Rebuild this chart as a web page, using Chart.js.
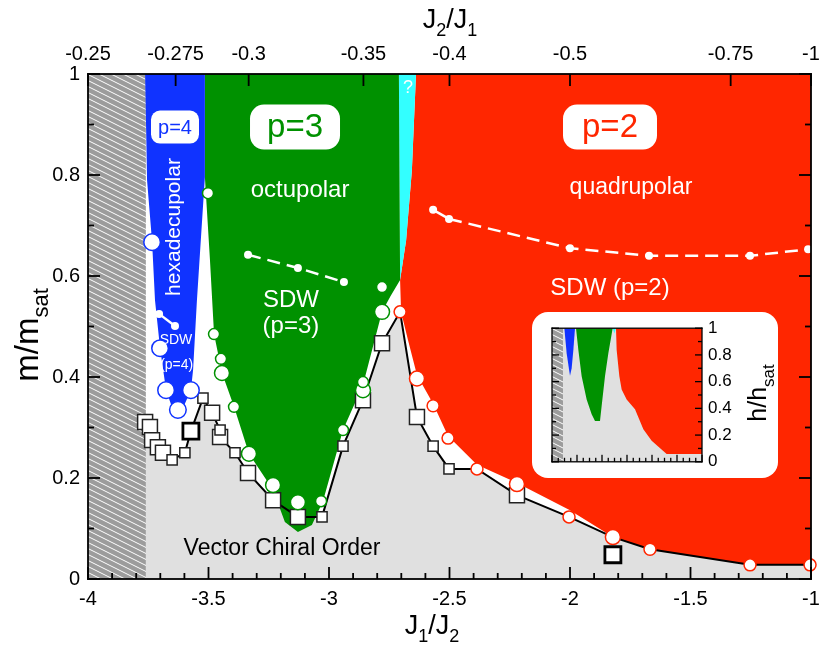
<!DOCTYPE html>
<html>
<head>
<meta charset="utf-8">
<script src="https://cdn.jsdelivr.net/npm/chart.js@4.4.0/dist/chart.umd.min.js"></script>
<style>
  body { margin: 0; background: #fff; }
  #wrap { position: relative; width: 830px; height: 652px; }
  #inset { position: absolute; left: 532px; top: 312px; width: 246px; height: 166px; background: #fff; border-radius: 16px; }
  canvas { display: block; }
</style>
</head>
<body>
<div id="wrap">
  <canvas id="main" width="830" height="652"></canvas>
  <div id="inset"><canvas id="small" width="246" height="166"></canvas></div>
</div>
<script>
const FONT = "'Liberation Sans', Arial, Helvetica, sans-serif";
const BLUE = '#1033ff', GREEN = '#009100', RED = '#ff2600', CYAN = '#33ffff', LIGHT = '#e0e0e0';

// ---- main diagram: x = J1/J2, y = m/msat ----
const hatchArea = [[-4, 0], [-4, 1], [-3.76, 1], [-3.76, 0]];
const p4Area = [[-3.763, 1], [-3.515, 1], [-3.515, 0.796], [-3.548, 0.552], [-3.564, 0.414], [-3.573, 0.374],
  [-3.600, 0.345], [-3.627, 0.335], [-3.655, 0.345], [-3.676, 0.374], [-3.701, 0.457], [-3.722, 0.552],
  [-3.734, 0.667], [-3.755, 0.79]];
const p3Area = [[-3.515, 1], [-2.710, 1], [-2.705, 0.592], [-2.745, 0.56], [-2.780, 0.529], [-2.859, 0.384],
  [-2.942, 0.295], [-3.025, 0.154], [-3.071, 0.107], [-3.129, 0.093], [-3.183, 0.113], [-3.232, 0.176],
  [-3.332, 0.248], [-3.394, 0.341], [-3.444, 0.408], [-3.477, 0.485], [-3.494, 0.632], [-3.515, 0.796]];
const unknownArea = [[-2.710, 1], [-2.639, 1], [-2.656, 0.81], [-2.680, 0.671], [-2.705, 0.592]];
const p2Area = [[-2.639, 1], [-1, 1], [-1, 0.028], [-1.253, 0.028], [-1.668, 0.059], [-1.822, 0.083],
  [-2.004, 0.137], [-2.228, 0.192], [-2.386, 0.226], [-2.506, 0.283], [-2.568, 0.347], [-2.635, 0.404],
  [-2.672, 0.473], [-2.701, 0.529], [-2.705, 0.592], [-2.680, 0.671], [-2.656, 0.81]];

// vector chiral order boundary (black line)
const vcoLine = [[-3.763, 0.311], [-3.743, 0.301], [-3.734, 0.275], [-3.710, 0.261], [-3.689, 0.250],
  [-3.651, 0.236], [-3.598, 0.250], [-3.573, 0.293], [-3.523, 0.358], [-3.485, 0.329], [-3.452, 0.295],
  [-3.452, 0.281], [-3.390, 0.250], [-3.336, 0.210], [-3.232, 0.156], [-3.129, 0.123], [-3.029, 0.123],
  [-2.942, 0.263], [-2.859, 0.354], [-2.780, 0.467], [-2.705, 0.529], [-2.635, 0.321], [-2.568, 0.263],
  [-2.502, 0.218], [-2.386, 0.218], [-2.220, 0.166], [-2.004, 0.123], [-1.822, 0.083], [-1.668, 0.059],
  [-1.253, 0.028], [-1.004, 0.028]];
const vcoArea = [[-3.76, 0], ...vcoLine, [-1, 0]];

const squaresBig = [[-3.763, 0.311], [-3.743, 0.301], [-3.734, 0.275], [-3.710, 0.261], [-3.689, 0.250],
  [-3.485, 0.329], [-3.452, 0.281], [-3.336, 0.210], [-3.232, 0.156], [-3.129, 0.123], [-2.859, 0.354],
  [-2.780, 0.467], [-2.635, 0.321], [-2.220, 0.166]];
const squaresSmall = [[-3.651, 0.236], [-3.598, 0.250], [-3.523, 0.358], [-3.452, 0.295], [-3.390, 0.250],
  [-3.029, 0.123], [-2.942, 0.263], [-2.568, 0.263], [-2.502, 0.218]];
const squaresBold = [[-3.573, 0.293], [-1.822, 0.048]];

const circlesP4 = [[-3.734, 0.667], [-3.701, 0.457], [-3.676, 0.374], [-3.627, 0.335], [-3.573, 0.374]];
const circlesP3Big = [[-3.444, 0.408], [-3.332, 0.248], [-3.232, 0.186], [-3.129, 0.152], [-2.780, 0.529], [-2.859, 0.374]];
const circlesP3Small = [[-3.502, 0.764], [-3.477, 0.485], [-3.448, 0.436], [-3.394, 0.341], [-3.033, 0.154],
  [-2.942, 0.295], [-2.859, 0.390], [-2.780, 0.578]];
const circlesP2Big = [[-2.635, 0.397], [-2.220, 0.188], [-1.822, 0.083]];
const circlesP2Small = [[-2.705, 0.529], [-2.568, 0.343], [-2.506, 0.279], [-2.386, 0.218], [-2.004, 0.123],
  [-1.668, 0.059], [-1.253, 0.028], [-1.004, 0.028]];

// SDW crossover lines
const sdwP4 = [[-3.705, 0.525], [-3.639, 0.501]];
const sdwP3 = [[-3.336, 0.642], [-3.129, 0.616], [-2.938, 0.588]];
const sdwP2 = [[-2.568, 0.731], [-2.502, 0.713], [-2.0, 0.655], [-1.672, 0.640], [-1.253, 0.640], [-1.012, 0.653]];

const topTickLabels = ['-0.25', '-0.275', '-0.3', '-0.35', '-0.4', '-0.5', '-0.75', '-1'];

// ---- inset: x = J1/J2, y = h/hsat ----
const insetHatch = [[-4, 0], [-4, 1], [-3.78, 1], [-3.78, 0]];
const insetP4 = [[-3.753, 1], [-3.54, 1], [-3.573, 0.837], [-3.607, 0.701], [-3.64, 0.644], [-3.653, 0.676], [-3.707, 0.812]];
const insetP3 = [[-3.52, 1], [-2.787, 1], [-2.827, 0.911], [-2.873, 0.812], [-2.94, 0.640], [-3.007, 0.417],
  [-3.04, 0.306], [-3.14, 0.306], [-3.207, 0.356], [-3.307, 0.467], [-3.407, 0.640], [-3.473, 0.837]];
const insetUnknown = [[-2.787, 1], [-2.72, 1], [-2.753, 0.96]];
const insetP2 = [[-2.72, 1], [-1, 1], [-1, 0.059], [-1.707, 0.059], [-2.007, 0.158], [-2.173, 0.244],
  [-2.34, 0.393], [-2.507, 0.467], [-2.607, 0.541], [-2.653, 0.640], [-2.707, 0.837]];

const P = a => a.map(([x, y]) => ({x, y}));
const fmt = v => String(Math.round(v * 100) / 100);

function hatchPattern(ctx) {
  const t = document.createElement('canvas');
  t.width = 48; t.height = 48;
  const c = t.getContext('2d');
  c.fillStyle = '#9c9c9c';
  c.fillRect(0, 0, 48, 48);
  c.fillStyle = '#fff';
  // white streaks going down to the right (slope 1/2), drawn as thin parallelograms
  for (let k = -48; k <= 48; k += 6) {
    c.beginPath();
    c.moveTo(0, k); c.lineTo(48, k + 24); c.lineTo(48, k + 25); c.lineTo(0, k + 1);
    c.closePath(); c.fill();
  }
  return ctx.createPattern(t, 'repeat');
}

// fill a closed polygon through the dataset's own points
const polyFill = {
  id: 'polyFill',
  beforeDatasetDraw(chart, args) {
    const ds = chart.data.datasets[args.index];
    if (!ds.area) return;
    const {ctx, chartArea: a} = chart;
    const pts = args.meta.data;
    ctx.save();
    ctx.beginPath(); ctx.rect(a.left, a.top, a.width, a.height); ctx.clip();
    ctx.beginPath();
    pts.forEach((p, i) => i ? ctx.lineTo(p.x, p.y) : ctx.moveTo(p.x, p.y));
    ctx.closePath();
    ctx.fillStyle = ds.area;
    ctx.fill();
    ctx.restore();
  }
};

const area = (data, fill, order) => ({data: P(data), area: fill, showLine: false, pointRadius: 0, order});
const marks = (data, style, r, edge, lw, order) => ({
  data: P(data), showLine: false, pointStyle: style, pointRadius: r, pointBackgroundColor: '#fff',
  pointBorderColor: edge, pointBorderWidth: lw, clip: false, order
});
const sdw = (data, dashFrom, order) => ({
  data: P(data), showLine: true, borderColor: '#fff', borderWidth: 2.5, pointRadius: 4,
  pointBackgroundColor: '#fff', pointBorderWidth: 0, clip: false, order,
  segment: {borderDash: c => c.p0DataIndex >= dashFrom ? [13, 7] : []}
});

function steps(from, to, step) {
  const out = [];
  for (let v = from; v <= to + 1e-9; v += step) out.push(Math.round(v * 1000) / 1000);
  return out;
}
function isMult(v, m) { return Math.abs(v / m - Math.round(v / m)) < 1e-6; }

// inward tick marks and the frame, painted as thin filled bars
function drawTicks(chart, sets, lw, majorLen, minorLen) {
  const {ctx, chartArea: a, scales} = chart;
  const h = lw / 2;
  ctx.save();
  ctx.fillStyle = '#000';
  for (const s of sets) {
    const sc = scales[s.scale];
    for (const v of s.values) {
      const len = (s.every === 0 || isMult(v, s.every)) ? majorLen : minorLen;
      const p = sc.getPixelForValue(v);
      if (s.side === 'bottom') ctx.fillRect(p - h, a.bottom - len, lw, len);
      if (s.side === 'top') ctx.fillRect(p - h, a.top, lw, len);
      if (s.side === 'left') ctx.fillRect(a.left, p - h, len, lw);
      if (s.side === 'right') ctx.fillRect(a.right - len, p - h, len, lw);
    }
  }
  ctx.fillRect(a.left - h, a.top - h, a.width + lw, lw);
  ctx.fillRect(a.left - h, a.bottom - h, a.width + lw, lw);
  ctx.fillRect(a.left - h, a.top - h, lw, a.height + lw);
  ctx.fillRect(a.right - h, a.top - h, lw, a.height + lw);
  ctx.restore();
}

function drawSub(ctx, parts, x, y, size) {
  const big = size + 'px ' + FONT, small = Math.round(size * 0.68) + 'px ' + FONT;
  let w = 0;
  for (const [t, s] of parts) { ctx.font = s ? small : big; w += ctx.measureText(t).width; }
  let cx = x - w / 2;
  ctx.textAlign = 'left';
  ctx.textBaseline = 'alphabetic';
  for (const [t, s] of parts) {
    ctx.font = s ? small : big;
    ctx.fillText(t, cx, s ? y + size * 0.3 : y);
    cx += ctx.measureText(t).width;
  }
}

function roundBox(ctx, cx, cy, w, h, r) {
  ctx.beginPath();
  ctx.roundRect(cx - w / 2, cy - h / 2, w, h, r);
  ctx.fillStyle = '#fff';
  ctx.fill();
}

// phase names
const phaseLabels = [
  {text: 'octupolar', x: -3.120, y: 0.770, size: 24, color: '#fff'},
  {text: 'SDW', x: -3.158, y: 0.552, size: 24, color: '#fff'},
  {text: '(p=3)', x: -3.158, y: 0.501, size: 24, color: '#fff'},
  {text: 'SDW', x: -3.635, y: 0.473, size: 14, color: '#fff'},
  {text: '(p=4)', x: -3.632, y: 0.424, size: 14, color: '#fff'},
  {text: 'quadrupolar', x: -1.747, y: 0.774, size: 23, color: '#fff'},
  {text: 'SDW (p=2)', x: -1.834, y: 0.576, size: 24, color: '#fff'},
  {text: 'Vector Chiral Order', x: -3.195, y: 0.061, size: 23, color: '#000'},
  {text: '?', x: -2.672, y: 0.972, size: 18, color: '#fff'}
];
const boxLabels = [
  {text: 'p=4', x: -3.639, y: 0.895, size: 20, w: 48, h: 33, r: 9, color: BLUE},
  {text: 'p=3', x: -3.141, y: 0.895, size: 33, w: 90, h: 45, r: 14, color: GREEN},
  {text: 'p=2', x: -1.834, y: 0.895, size: 33, w: 94, h: 45, r: 14, color: RED}
];

const mainTicks = [
  {scale: 'x', side: 'bottom', values: steps(-4, -1, 0.1), every: 0.5},
  {scale: 'x2', side: 'top', values: topTickLabels.map(t => 1 / parseFloat(t)), every: 0},
  {scale: 'y', side: 'left', values: steps(0, 1, 0.1), every: 0.2},
  {scale: 'y2', side: 'right', values: steps(0, 1, 0.1), every: 0.2}
];

const mainDeco = {
  id: 'mainDeco',
  afterDatasetsDraw(chart) {
    const {ctx, scales: {x, y}} = chart;
    ctx.save();
    for (const b of boxLabels) {
      const px = x.getPixelForValue(b.x), py = y.getPixelForValue(b.y);
      roundBox(ctx, px, py, b.w, b.h, b.r);
      ctx.fillStyle = b.color;
      ctx.font = b.size + 'px ' + FONT;
      ctx.textAlign = 'center'; ctx.textBaseline = 'middle';
      ctx.fillText(b.text, px, py + 1);
    }
    for (const l of phaseLabels) {
      ctx.fillStyle = l.color;
      ctx.font = l.size + 'px ' + FONT;
      ctx.textAlign = 'center'; ctx.textBaseline = 'middle';
      ctx.fillText(l.text, x.getPixelForValue(l.x), y.getPixelForValue(l.y));
    }
    // rotated phase name
    ctx.save();
    ctx.translate(x.getPixelForValue(-3.643), y.getPixelForValue(0.697));
    ctx.rotate(-Math.PI / 2);
    ctx.fillStyle = '#fff';
    ctx.font = '21px ' + FONT;
    ctx.textAlign = 'center'; ctx.textBaseline = 'middle';
    ctx.fillText('hexadecupolar', 0, 0);
    ctx.restore();
    // axis titles
    ctx.fillStyle = '#000';
    drawSub(ctx, [['J', false], ['1', true], ['/J', false], ['2', true]], 432, 634, 27);
    drawSub(ctx, [['J', false], ['2', true], ['/J', false], ['1', true]], 450, 28, 27);
    ctx.save();
    ctx.translate(38, 335);
    ctx.rotate(-Math.PI / 2);
    drawSub(ctx, [['m/m', false], ['sat', true]], 0, 0, 33);
    ctx.restore();
    ctx.restore();
    drawTicks(chart, mainTicks, 1.8, 12, 6);
  }
};

const mainCanvas = document.getElementById('main');
const mainHatch = hatchPattern(mainCanvas.getContext('2d'));
const tickFont = {family: FONT, size: 20};
const noGrid = {display: false, drawTicks: false};

new Chart(mainCanvas, {
  type: 'scatter',
  data: {
    datasets: [
      marks(squaresBold, 'rect', 11.3, '#000', 2.8, 1),
      marks(circlesP2Small, 'circle', 6, RED, 1.5, 2),
      marks(circlesP2Big, 'circle', 7.5, RED, 1.5, 3),
      marks(circlesP3Small, 'circle', 5.5, GREEN, 1.5, 4),
      marks(circlesP3Big, 'circle', 7.5, GREEN, 1.5, 5),
      marks(circlesP4, 'circle', 8.3, BLUE, 1.5, 6),
      marks(squaresSmall, 'rect', 7.2, '#222', 1.5, 7),
      marks(squaresBig, 'rect', 10.6, '#222', 1.5, 8),
      {data: P(vcoLine), showLine: true, borderColor: '#000', borderWidth: 2, pointRadius: 0, order: 9},
      sdw(sdwP2, 1, 10),
      sdw(sdwP3, 0, 11),
      sdw(sdwP4, 99, 12),
      area(p4Area, BLUE, 20),
      area(p3Area, GREEN, 21),
      area(unknownArea, CYAN, 22),
      area(p2Area, RED, 23),
      area(hatchArea, mainHatch, 24),
      area(vcoArea, LIGHT, 25)
    ]
  },
  options: {
    responsive: false,
    animation: false,
    events: [],
    layout: {padding: 0},
    plugins: {legend: {display: false}, tooltip: {enabled: false}},
    scales: {
      x: {
        type: 'linear', position: 'bottom', min: -4, max: -1,
        grid: noGrid, border: {display: false},
        ticks: {stepSize: 0.5, padding: 8, color: '#000', font: tickFont, maxRotation: 0, callback: fmt},
        afterFit: s => { s.height = 73; }
      },
      x2: {
        type: 'linear', position: 'top', min: -4, max: -1,
        grid: noGrid, border: {display: false},
        ticks: {padding: 8, color: '#000', font: tickFont, maxRotation: 0, autoSkip: false,
          callback: (v, i) => topTickLabels[i]},
        afterBuildTicks: s => { s.ticks = topTickLabels.map(t => ({value: 1 / parseFloat(t)})); },
        afterFit: s => { s.height = 74; }
      },
      y: {
        type: 'linear', position: 'left', min: 0, max: 1,
        grid: noGrid, border: {display: false},
        ticks: {stepSize: 0.2, padding: 8, color: '#000', font: tickFont, callback: fmt},
        afterFit: s => { s.width = 88; }
      },
      y2: {
        type: 'linear', position: 'right', min: 0, max: 1,
        grid: noGrid, border: {display: false},
        ticks: {display: false},
        afterFit: s => { s.width = 19; }
      }
    }
  },
  plugins: [polyFill, mainDeco]
});

// ---- inset ----
const smallCanvas = document.getElementById('small');
const smallHatch = hatchPattern(smallCanvas.getContext('2d'));
const insetTicks = [
  {scale: 'x', side: 'bottom', values: steps(-4, -1, 0.125), every: 0.5},
  {scale: 'y', side: 'left', values: steps(0, 1, 0.1), every: 0.2},
  {scale: 'y', side: 'right', values: steps(0, 1, 0.1), every: 0.2}
];
const insetDeco = {
  id: 'insetDeco',
  beforeDatasetsDraw(chart) {
    const {ctx, chartArea: a} = chart;
    ctx.save();
    ctx.fillStyle = LIGHT;
    ctx.fillRect(a.left, a.top, a.width, a.height);
    ctx.restore();
  },
  afterDatasetsDraw(chart) {
    const {ctx} = chart;
    drawTicks(chart, insetTicks, 1.3, 7, 4);
    ctx.save();
    ctx.fillStyle = '#000';
    ctx.translate(226, 81);
    ctx.rotate(-Math.PI / 2);
    drawSub(ctx, [['h/h', false], ['sat', true]], 0, 8, 25);
    ctx.restore();
  }
};

new Chart(smallCanvas, {
  type: 'scatter',
  data: {
    datasets: [
      area(insetHatch, smallHatch, 1),
      area(insetP4, BLUE, 2),
      area(insetP3, GREEN, 3),
      area(insetUnknown, CYAN, 4),
      area(insetP2, RED, 5)
    ]
  },
  options: {
    responsive: false,
    animation: false,
    events: [],
    layout: {padding: {left: 20, top: 16, bottom: 15, right: 0}},
    plugins: {legend: {display: false}, tooltip: {enabled: false}},
    scales: {
      x: {type: 'linear', min: -4, max: -1, display: false},
      y: {
        type: 'linear', position: 'right', min: 0, max: 1,
        grid: noGrid, border: {display: false},
        ticks: {stepSize: 0.2, padding: 6, color: '#000', font: {family: FONT, size: 17}, callback: fmt},
        afterFit: s => { s.width = 76; }
      }
    }
  },
  plugins: [polyFill, insetDeco]
});
</script>
</body>
</html>
